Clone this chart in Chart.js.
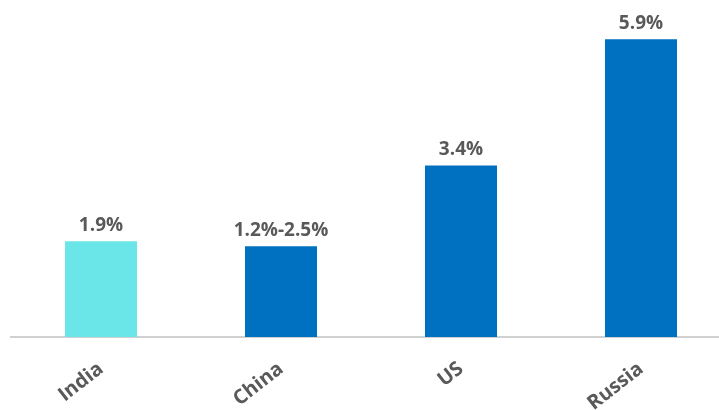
<!DOCTYPE html>
<html>
<head>
<meta charset="utf-8">
<script src="https://cdn.jsdelivr.net/npm/chart.js@4"></script>
<style>
  html, body { margin: 0; padding: 0; background: #fff; overflow: hidden; }
  #wrap { position: relative; width: 732px; height: 410px; }
</style>
</head>
<body>
<div id="wrap"><canvas id="chart"></canvas></div>
<script>
const categories = ['India', 'China', 'US', 'Russia'];
const values = [1.9, 1.8, 3.4, 5.9];
const valueLabels = ['1.9%', '1.2%-2.5%', '3.4%', '5.9%'];
const barColors = ['#6ae5e8', '#0070c0', '#0070c0', '#0070c0'];

const textGray = '#595959';
const fontFamily = '"Open Sans", "Noto Sans", sans-serif';

// draws value text above each bar
const valueLabelPlugin = {
  id: 'valueLabels',
  afterDatasetsDraw(chart) {
    const ctx = chart.ctx;
    const meta = chart.getDatasetMeta(0);
    ctx.save();
    ctx.font = 'bold 19px ' + fontFamily;
    ctx.fillStyle = textGray;
    ctx.textAlign = 'center';
    ctx.textBaseline = 'bottom';
    meta.data.forEach((bar, i) => {
      ctx.fillText(valueLabels[i], bar.x, bar.y - 6);
    });
    ctx.restore();
  }
};

const ctx = document.getElementById('chart').getContext('2d');
new Chart(ctx, {
  type: 'bar',
  data: {
    labels: categories,
    datasets: [{
      data: values,
      backgroundColor: barColors,
      borderWidth: 0,
      barPercentage: 0.4,
      categoryPercentage: 1.0
    }]
  },
  options: {
    responsive: true,
    maintainAspectRatio: false,
    animation: false,
    layout: { padding: { left: 11, right: 1, top: 4, bottom: 0 } },
    plugins: { legend: { display: false }, tooltip: { enabled: false } },
    scales: {
      x: {
        grid: { display: false, drawTicks: false },
        border: { display: true, color: '#d0d0d0', width: 2 },
        ticks: {
          color: textGray,
          font: { family: fontFamily, size: 20, weight: 'bold' },
          minRotation: 38,
          maxRotation: 38,
          padding: 20
        },
        afterFit(scale) { scale.height = 73; }
      },
      y: {
        display: false,
        min: 0,
        max: 6.6
      }
    }
  },
  plugins: [valueLabelPlugin]
});
</script>
</body>
</html>
